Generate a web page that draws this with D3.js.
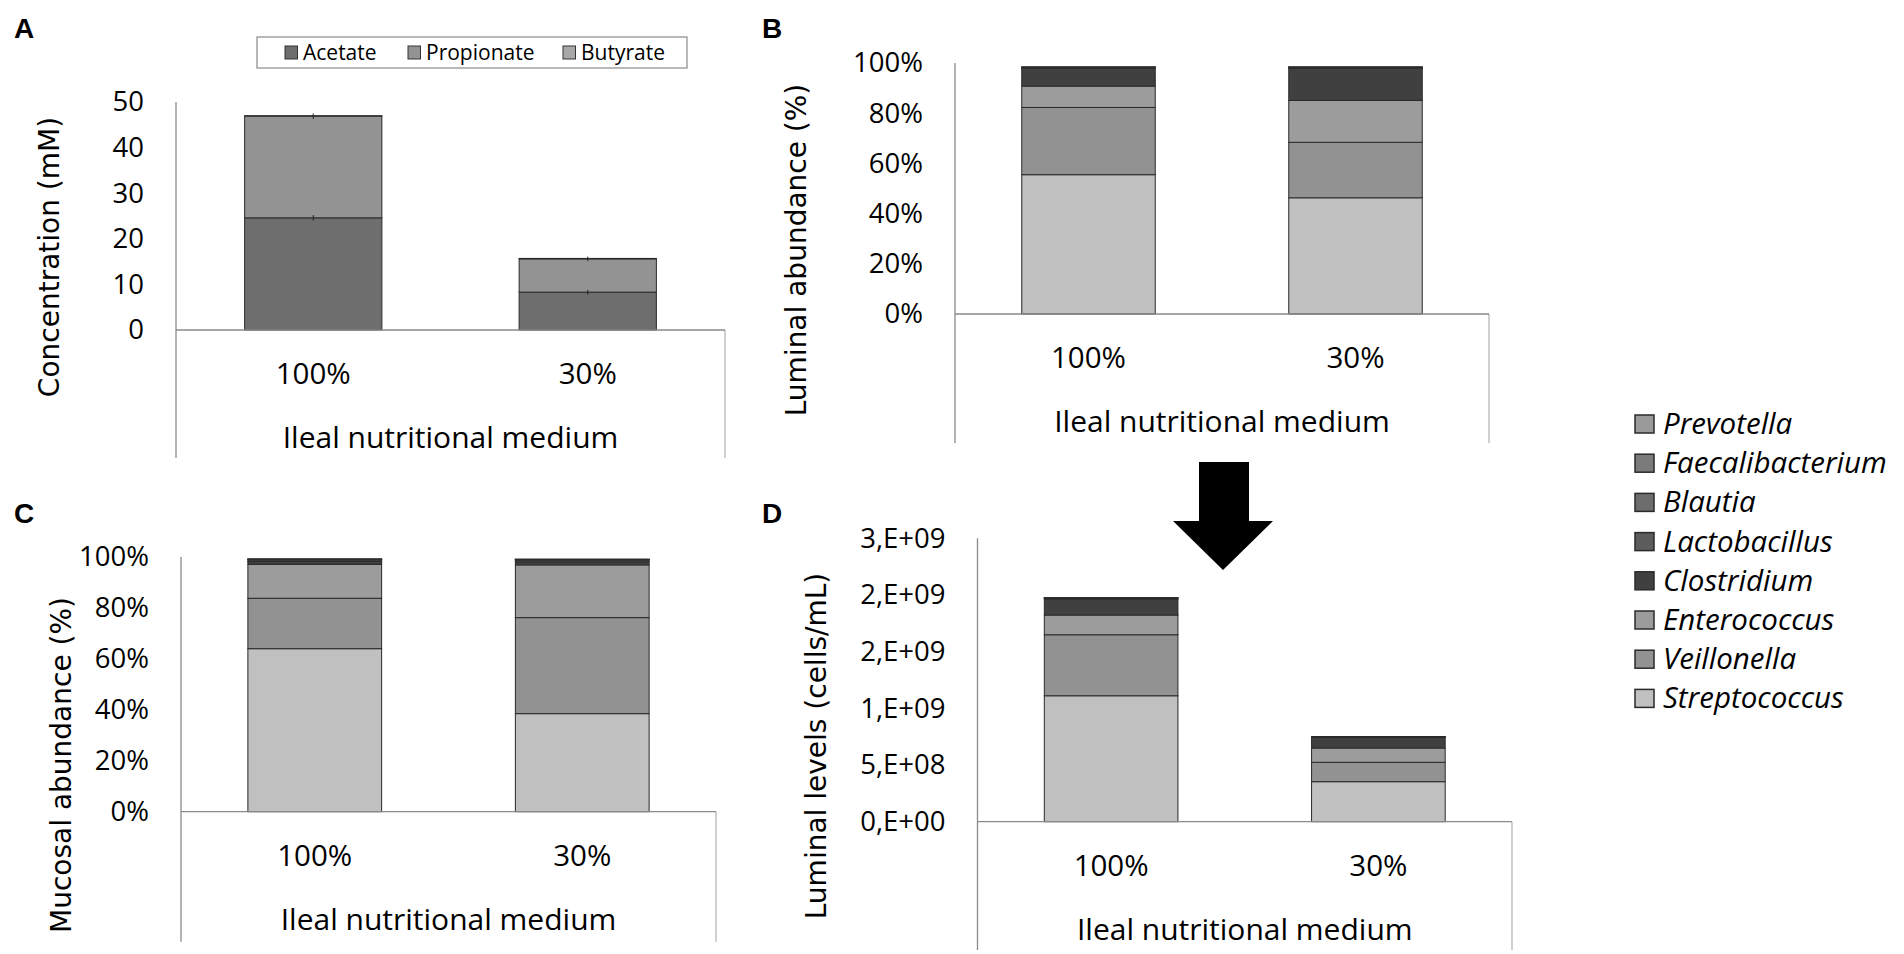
<!DOCTYPE html>
<html lang="en">
<head>
  <meta charset="UTF-8">
  <script src="https://cdn.jsdelivr.net/npm/d3@7"></script>
  <title>Ileal nutritional medium</title>
  <style>
    body { margin: 0; background: #fff; }
    svg { display: block; }
    .lbl { font-family: 'Open Sans', sans-serif; fill: #000; }
    .ytitle { font-family: 'DejaVu Sans', sans-serif; font-size: 28px; fill: #000; text-anchor: middle; }
    .letter { font-family: 'Liberation Sans', Arial, sans-serif; font-weight: bold; font-size: 28px; }
  </style>
</head>
<body>
<script>
  const categories = ['100%', '30%'];

  // A - SCFA concentration (mM)
  const scfaNames = ['Acetate', 'Propionate', 'Butyrate'];
  const acetate = [24.6, 8.3];
  const propionate = [22.3, 7.3];
  const butyrate = [0.1, 0.1];
  const acetateErr = [0.6, 0.5];
  const propionateErr = [0.6, 0.5];
  const scfaTicks = [0, 10, 20, 30, 40, 50];

  // genera, bottom of the stack first
  const genera = ['Streptococcus', 'Veillonella', 'Enterococcus', 'Clostridium',
    'Lactobacillus', 'Blautia', 'Faecalibacterium', 'Prevotella'];
  // B - luminal abundance (%)
  const luminalPct100 = [55.5, 26.8, 8.5, 7.1, 0.3, 0.1, 0.1, 0.05];
  const luminalPct30 = [46.3, 22.1, 16.7, 12.8, 0.3, 0.1, 0.1, 0.05];
  // C - mucosal abundance (%)
  const mucosalPct100 = [64.0, 19.8, 13.3, 1.2, 0.6, 0.2, 0.1, 0.05];
  const mucosalPct30 = [38.5, 37.7, 20.7, 1.2, 0.7, 0.2, 0.1, 0.05];
  // D - luminal levels (cells/mL)
  const luminalCells100 = [1.111e9, 0.538e9, 0.174e9, 0.141e9, 0.008e9, 0.002e9, 0.001e9, 0.0005e9];
  const luminalCells30 = [0.353e9, 0.171e9, 0.126e9, 0.097e9, 0.002e9, 0.001e9, 0.0005e9, 0.0003e9];
  const pctTicks = [0, 20, 40, 60, 80, 100];
  const cellTicks = [0, 5e8, 1e9, 1.5e9, 2e9, 2.5e9];

  const scfaColors = ['#6e6e6e', '#939393', '#a8a8a8'];
  const genusColors = ['#c0c0c0', '#929292', '#9c9c9c', '#404040', '#5c5c5c', '#6d6d6d', '#7b7b7b', '#9a9a9a'];

  const width = 1904, height = 954;
  const svg = d3.select('body').append('svg').attr('width', width).attr('height', height);

  // excel style "0,E+00" (half rounds up)
  function sci(v) {
    if (v === 0) return '0,E+00';
    let e = Math.floor(Math.log10(v));
    let m = Math.round(v / Math.pow(10, e));
    if (m === 10) { m = 1; e++; }
    return m + ',E+' + String(e).padStart(2, '0');
  }

  function toRows(keys, cols) {
    return categories.map((c, i) => {
      const r = { cat: c };
      keys.forEach((k, j) => r[k] = cols[i][j]);
      return r;
    });
  }

  function panel(p) {
    const x = d3.scaleBand().domain(categories).range([p.left, p.right]).paddingInner(0.5).paddingOuter(0.25);
    const y = d3.scaleLinear().domain([0, p.max]).range([p.zero, p.top]);
    const g = svg.append('g');

    // frame lines
    g.append('line').attr('x1', p.left).attr('x2', p.left).attr('y1', y(p.max)).attr('y2', p.bottom)
      .attr('stroke', '#8a8a8a').attr('stroke-width', 1.3);
    g.append('line').attr('x1', p.right).attr('x2', p.right).attr('y1', y(0)).attr('y2', p.bottom)
      .attr('stroke', '#b0b0b0').attr('stroke-width', 1.2);

    const layers = d3.stack().keys(p.keys)(p.rows);
    g.selectAll('g.layer').data(layers).enter().append('g').attr('class', 'layer')
      .attr('fill', (d, i) => p.colors[i])
      .selectAll('rect').data(d => d).enter().append('rect')
      .attr('x', d => x(d.data.cat)).attr('width', x.bandwidth())
      .attr('y', d => y(d[1])).attr('height', d => y(d[0]) - y(d[1]))
      .attr('stroke', '#2a2a2a').attr('stroke-width', 1);

    if (p.errors) {
      layers.forEach((layer, li) => {
        if (!p.errors[li]) return;
        layer.forEach((d, i) => {
          const cx = x(d.data.cat) + x.bandwidth() / 2, e = p.errors[li][i];
          g.append('line').attr('x1', cx).attr('x2', cx)
            .attr('y1', y(d[1] + e)).attr('y2', y(d[1] - e))
            .attr('stroke', '#222').attr('stroke-width', 1);
        });
      });
    }

    g.append('line').attr('x1', p.left).attr('x2', p.right).attr('y1', y(0)).attr('y2', y(0))
      .attr('stroke', '#8a8a8a').attr('stroke-width', 1.3);

    const ay = g.append('g').attr('transform', `translate(${p.left},0)`)
      .call(d3.axisLeft(y).tickValues(p.ticks).tickFormat(p.fmt).tickSize(0).tickPadding(32));
    ay.select('.domain').remove();
    ay.attr('font-family', 'Open Sans, sans-serif').attr('font-size', 27.5);
    ay.selectAll('text').attr('fill', '#000');

    const ax = g.append('g').attr('transform', `translate(0,${y(0)})`)
      .call(d3.axisBottom(x).tickSize(0).tickPadding(33));
    ax.select('.domain').remove();
    ax.attr('font-family', 'Open Sans, sans-serif').attr('font-size', 29.5);
    ax.selectAll('text').attr('fill', '#000');

    g.append('text').attr('class', 'lbl').attr('font-size', 30).attr('text-anchor', 'middle')
      .attr('x', (p.left + p.right) / 2).attr('y', y(0) + 118).text('Ileal nutritional medium');

    g.append('text').attr('class', 'ytitle')
      .attr('transform', `translate(${p.titleX},${p.titleY}) rotate(-90)`).text(p.yTitle);

    g.append('text').attr('class', 'letter').attr('x', p.letterX).attr('y', p.letterY).text(p.letter);
  }

  panel({
    left: 176, right: 725, top: 102, zero: 330, bottom: 458, max: 50,
    ticks: scfaTicks, fmt: d => d, keys: scfaNames, colors: scfaColors,
    rows: toRows(scfaNames, [[acetate[0], propionate[0], butyrate[0]], [acetate[1], propionate[1], butyrate[1]]]),
    errors: [acetateErr, propionateErr, null],
    yTitle: 'Concentration (mM)', titleX: 59, titleY: 257, letter: 'A', letterX: 14, letterY: 38
  });
  panel({
    left: 955, right: 1489, top: 63, zero: 314, bottom: 443, max: 100,
    ticks: pctTicks, fmt: d => d + '%', keys: genera, colors: genusColors,
    rows: toRows(genera, [luminalPct100, luminalPct30]),
    yTitle: 'Luminal abundance (%)', titleX: 806, titleY: 250, letter: 'B', letterX: 762, letterY: 38
  });
  panel({
    left: 181, right: 716, top: 557, zero: 811.7, bottom: 941.7, max: 100,
    ticks: pctTicks, fmt: d => d + '%', keys: genera, colors: genusColors,
    rows: toRows(genera, [mucosalPct100, mucosalPct30]),
    yTitle: 'Mucosal abundance (%)', titleX: 71, titleY: 765, letter: 'C', letterX: 14, letterY: 523
  });
  panel({
    left: 977.5, right: 1512, top: 538.3, zero: 821.7, bottom: 950, max: 2.5e9,
    ticks: cellTicks, fmt: sci, keys: genera, colors: genusColors,
    rows: toRows(genera, [luminalCells100, luminalCells30]),
    yTitle: 'Luminal levels (cells/mL)', titleX: 826, titleY: 746, letter: 'D', letterX: 762, letterY: 523
  });

  // legend for panel A
  const legA = svg.append('g');
  legA.append('rect').attr('x', 257).attr('y', 37).attr('width', 430).attr('height', 31)
    .attr('fill', '#fff').attr('stroke', '#8a8a8a').attr('stroke-width', 1.2);
  const legAx = [285, 408, 563];
  scfaNames.forEach((n, i) => {
    legA.append('rect').attr('x', legAx[i]).attr('y', 46).attr('width', 12.5).attr('height', 13)
      .attr('fill', scfaColors[i]).attr('stroke', '#333').attr('stroke-width', 1);
    legA.append('text').attr('class', 'lbl').attr('font-size', 21)
      .attr('x', legAx[i] + 18).attr('y', 59.5).text(n);
  });

  // genus legend, top row = last layer
  const legG = svg.append('g');
  genera.slice().reverse().forEach((n, i) => {
    const cy = 424 + i * 39.2;
    legG.append('rect').attr('x', 1635).attr('y', cy - 9).attr('width', 19).attr('height', 18)
      .attr('fill', genusColors[genera.length - 1 - i]).attr('stroke', '#2a2a2a').attr('stroke-width', 1.5);
    legG.append('text').attr('class', 'lbl').attr('font-size', 29.5).attr('font-style', 'italic')
      .attr('x', 1663).attr('y', cy + 10).text(n);
  });

  // arrow from B down to D
  svg.append('path')
    .attr('d', 'M1199,462 L1249,462 L1249,521 L1273,521 L1223,570 L1173,521 L1199,521 Z')
    .attr('fill', '#000');
</script>
</body>
</html>
